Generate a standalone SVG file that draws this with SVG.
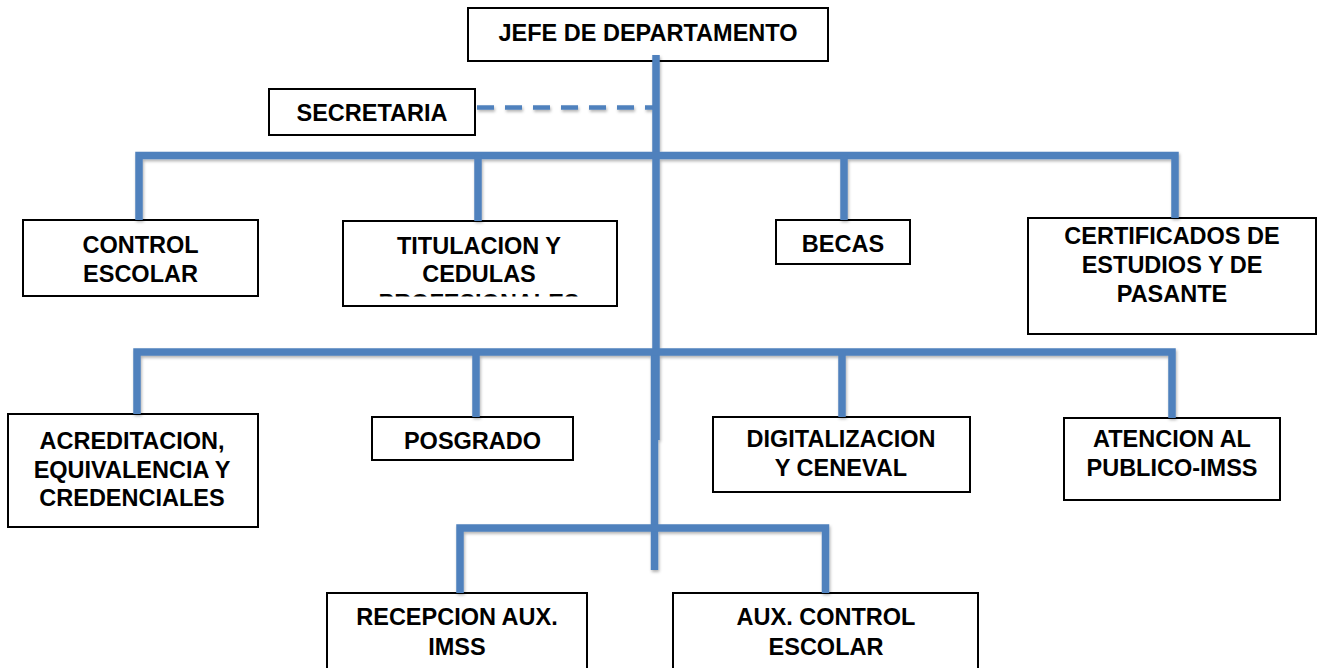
<svg xmlns="http://www.w3.org/2000/svg" width="1319" height="668" viewBox="0 0 1319 668">
<style>
.box{fill:#fff;stroke:#000;stroke-width:2}
.t{font-family:"Liberation Sans",Arial,sans-serif;font-weight:bold;font-size:23.5px;fill:#000;text-anchor:middle}
.ln{fill:none;stroke:#4F81BD;stroke-width:7.5;stroke-linejoin:miter;stroke-linecap:butt}
.dash{fill:none;stroke:#4F81BD;stroke-width:4.5;stroke-dasharray:17 11}
</style>
<defs>
<filter id="sh" x="-5%" y="-5%" width="110%" height="110%">
<feDropShadow dx="1" dy="2" stdDeviation="1.5" flood-color="#000" flood-opacity="0.3"/>
</filter>
<clipPath id="cut"><rect x="343" y="290" width="274" height="6.5"/></clipPath>
</defs>
<rect width="1319" height="668" fill="#fff"/>

<g id="n-jefe"><rect class="box" x="468" y="8" width="360" height="53"/><text class="t" x="648" y="41">JEFE DE DEPARTAMENTO</text></g>
<g id="n-secretaria"><rect class="box" x="269" y="89" width="206" height="46"/><text class="t" x="372" y="121">SECRETARIA</text></g>
<g id="n-control"><rect class="box" x="23" y="220" width="235" height="76"/><text class="t" x="140.5" y="253">CONTROL</text><text class="t" x="140.5" y="282">ESCOLAR</text></g>
<g id="n-titulacion"><rect class="box" x="343" y="221" width="274" height="85"/><text class="t" x="479" y="253.5">TITULACION Y</text><text class="t" x="479" y="282">CEDULAS</text><text class="t" x="479" y="311" clip-path="url(#cut)">PROFESIONALES</text></g>
<g id="n-becas"><rect class="box" x="776" y="220" width="134" height="44"/><text class="t" x="843" y="252">BECAS</text></g>
<g id="n-certificados"><rect class="box" x="1028" y="218" width="288" height="116"/><text class="t" x="1172" y="243.5">CERTIFICADOS DE</text><text class="t" x="1172" y="272.5">ESTUDIOS Y DE</text><text class="t" x="1172" y="302">PASANTE</text></g>
<g id="n-acreditacion"><rect class="box" x="8" y="414" width="250" height="113"/><text class="t" x="132" y="448.5">ACREDITACION,</text><text class="t" x="132" y="478">EQUIVALENCIA Y</text><text class="t" x="132" y="505.5">CREDENCIALES</text></g>
<g id="n-posgrado"><rect class="box" x="372" y="417" width="201" height="43"/><text class="t" x="472.5" y="448.5">POSGRADO</text></g>
<g id="n-digitalizacion"><rect class="box" x="713" y="417" width="257" height="75"/><text class="t" x="841" y="447">DIGITALIZACION</text><text class="t" x="841" y="476">Y CENEVAL</text></g>
<g id="n-atencion"><rect class="box" x="1064" y="418" width="216" height="82"/><text class="t" x="1172" y="447">ATENCION AL</text><text class="t" x="1172" y="476">PUBLICO-IMSS</text></g>
<g id="n-recepcion"><rect class="box" x="327" y="593" width="260" height="80"/><text class="t" x="457" y="625">RECEPCION AUX.</text><text class="t" x="457" y="655">IMSS</text></g>
<g id="n-auxcontrol"><rect class="box" x="673" y="593" width="305" height="80"/><text class="t" x="826" y="625">AUX. CONTROL</text><text class="t" x="826" y="655">ESCOLAR</text></g>

<g id="connectors" filter="url(#sh)">
<path class="dash" d="M477,107.5 H655"/>
<path class="ln" d="M656,55 V440"/>
<path class="ln" d="M654.5,353 V570"/>
<path class="ln" d="M139,220 V155.5 H1175 V218"/>
<path class="ln" d="M478,155.5 V221"/>
<path class="ln" d="M844,155.5 V220"/>
<path class="ln" d="M137,414 V352 H1172 V418"/>
<path class="ln" d="M476,352 V417"/>
<path class="ln" d="M842,352 V417"/>
<path class="ln" d="M460,593 V528 H825.5 V593"/>
</g>
</svg>
